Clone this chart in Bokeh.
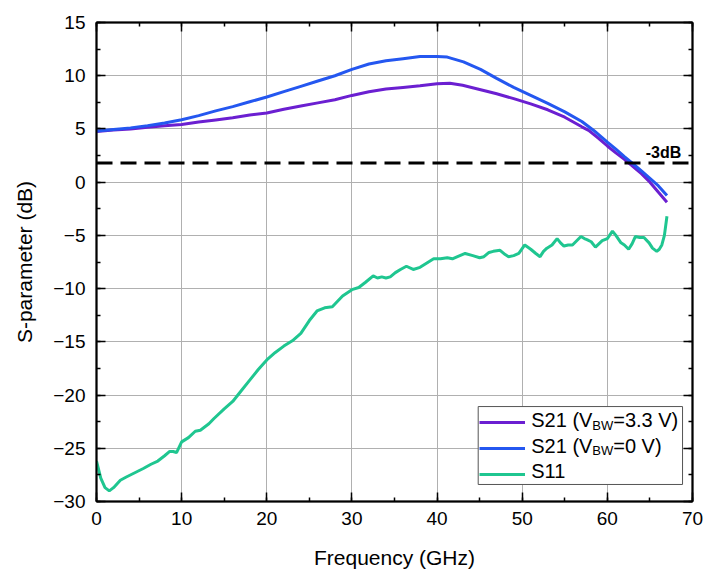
from bokeh.plotting import figure
from bokeh.models import (Range1d, LinearAxis, SingleIntervalTicker, Span, Label,
                          Legend, LegendItem, CustomJSTickFormatter, BoxAnnotation)
from bokeh.embed import file_html
from bokeh.resources import INLINE

# ---------------- data ----------------
freq_s21_33 = [0, 2, 4, 6, 8, 10, 12, 14, 16, 18, 20, 22, 24, 26, 28, 30, 32, 34, 36, 38, 40,
               41.5, 43, 45, 47, 49, 51, 53, 55, 57, 57.8, 59, 60, 61, 62, 62.6, 64, 65, 66, 67]
s21_33 = [4.75, 4.9, 5.0, 5.15, 5.3, 5.42, 5.65, 5.85, 6.05, 6.3, 6.5, 6.85, 7.15, 7.45, 7.75,
          8.15, 8.5, 8.75, 8.9, 9.05, 9.25, 9.3, 9.1, 8.7, 8.3, 7.85, 7.35, 6.8, 6.1, 5.2, 4.86,
          4.1, 3.4, 2.75, 2.15, 1.75, 0.8, 0.0, -0.95, -1.88]

freq_s21_0 = [0, 2, 4, 6, 8, 10, 12, 14, 16, 18, 20, 22, 24, 26, 28, 30, 32, 34, 36, 38, 40,
              41.2, 43.1, 45.1, 47, 49, 51, 53, 55, 57, 58.4, 60, 61, 62, 63, 64, 65, 66, 67]
s21_0 = [4.8, 4.95, 5.1, 5.3, 5.55, 5.86, 6.25, 6.7, 7.1, 7.55, 8.0, 8.5, 9.0, 9.5, 10.0, 10.6,
         11.1, 11.4, 11.6, 11.8, 11.8, 11.75, 11.3, 10.6, 9.75, 8.9, 8.15, 7.4, 6.6, 5.7, 4.86,
         3.77, 3.1, 2.4, 1.73, 1.05, 0.35, -0.35, -1.25]

freq_s11 = [0, 0.5, 1.0, 1.5, 2.0, 2.8, 3.5, 4.5, 5.5, 6.4, 7.2, 8.0, 8.6, 9.0, 9.4, 10.0,
            10.8, 11.6, 12.2, 13.2, 13.8, 15, 16, 17, 18, 19, 20, 21, 22, 23, 24, 25, 25.9,
            26.8, 27.7, 28.9, 30.0, 30.8, 31.6, 32.5, 33.0, 33.5, 34.0, 34.5, 35.1, 35.7,
            36.4, 37.2, 38.0, 38.8, 39.6, 40.4, 41.2, 41.8, 42.4, 43.3, 44.2, 45.0, 45.5,
            46.1, 46.6, 47.4, 48.0, 48.4, 49.0, 49.6, 50.3, 51.0, 51.6, 52.1, 52.5, 52.9,
            53.5, 54.1, 54.5, 54.9, 55.4, 55.9, 56.4, 56.9, 57.3, 57.6, 58.1, 58.6, 59.0,
            59.4, 60.0, 60.6, 61.0, 61.6, 62.0, 62.5, 62.9, 63.3, 63.8, 64.3, 64.9, 65.3,
            65.8, 66.1, 66.4, 66.7, 67.0]
s11 = [-26.2, -27.8, -28.7, -29.0, -28.7, -28.0, -27.7, -27.3, -26.9, -26.5, -26.2, -25.7,
       -25.3, -25.3, -25.4, -24.4, -24.0, -23.4, -23.3, -22.7, -22.2, -21.3, -20.6, -19.6,
       -18.6, -17.6, -16.7, -16.0, -15.4, -14.9, -14.2, -13.0, -12.1, -11.8, -11.7, -10.7,
       -10.1, -9.9, -9.4, -8.8, -9.0, -8.9, -9.0, -8.9, -8.5, -8.2, -7.9, -8.2, -8.0, -7.6,
       -7.2, -7.2, -7.1, -7.2, -7.0, -6.7, -6.9, -7.1, -7.0, -6.6, -6.5, -6.4, -6.8, -7.0,
       -6.9, -6.7, -5.9, -6.3, -6.7, -7.0, -6.5, -6.2, -5.9, -5.3, -5.7, -6.0, -5.9, -5.9,
       -5.5, -5.1, -5.3, -5.4, -5.6, -6.1, -5.8, -5.5, -5.3, -4.6, -5.0, -5.7, -5.9, -6.3,
       -5.8, -5.1, -5.2, -5.2, -5.7, -6.2, -6.5, -6.3, -5.9, -5.0, -3.2]

threshold_db = 1.8
threshold_label = "-3dB"
x_title = "Frequency (GHz)"
y_title = "S-parameter (dB)"
legend_parts = [("S21 (V", "BW", "=3.3 V)"), ("S21 (V", "BW", "=0 V)"), ("S11", "", "")]

C_PURPLE = "#6b1fd1"
C_BLUE = "#2457f0"
C_GREEN = "#1fc690"
FONT = "Liberation Sans"

p = figure(width=705, height=572, x_range=Range1d(0, 70), y_range=Range1d(-30, 15),
           output_backend="svg", toolbar_location=None,
           min_border_left=96, min_border_right=13, min_border_top=22, min_border_bottom=71,
           x_axis_label=x_title, y_axis_label=y_title)

xt = SingleIntervalTicker(interval=10, num_minor_ticks=2)
yt = SingleIntervalTicker(interval=5, num_minor_ticks=2)

def style_axis(ax, ticker, labels=True):
    ax.ticker = ticker
    ax.axis_line_color = "black"
    ax.axis_line_width = 2
    ax.major_tick_in = 9
    ax.major_tick_out = 0
    ax.minor_tick_in = 4
    ax.minor_tick_out = 0
    ax.major_tick_line_color = "black"
    ax.minor_tick_line_color = "black"
    ax.major_tick_line_width = 1.5
    ax.minor_tick_line_width = 1.5
    ax.major_label_text_font = FONT
    ax.major_label_text_font_size = "19px"
    ax.major_label_text_color = "black"
    if not labels:
        ax.formatter = CustomJSTickFormatter(code="return ''")
        ax.major_label_standoff = 0
        ax.major_label_text_font_size = "1px"

style_axis(p.xaxis[0], xt)
style_axis(p.yaxis[0], yt)
p.xaxis[0].major_label_standoff = 10
p.yaxis[0].major_label_standoff = 11
for ax in (p.xaxis[0], p.yaxis[0]):
    ax.axis_label_text_font = FONT
    ax.axis_label_text_font_size = "21px"
    ax.axis_label_text_font_style = "normal"
    ax.axis_label_text_color = "black"
p.xaxis[0].axis_label_standoff = 18
p.yaxis[0].axis_label_standoff = 14

top_ax = LinearAxis()
right_ax = LinearAxis()
style_axis(top_ax, SingleIntervalTicker(interval=10, num_minor_ticks=2), labels=False)
style_axis(right_ax, SingleIntervalTicker(interval=5, num_minor_ticks=2), labels=False)
p.add_layout(top_ax, "above")
p.add_layout(right_ax, "right")

p.xgrid.ticker = xt
p.ygrid.ticker = yt
for g in (p.xgrid[0], p.ygrid[0]):
    g.grid_line_color = "#b0b0b0"
    g.grid_line_width = 1
    g.grid_line_alpha = 1
    g.level = "image"

p.outline_line_color = "black"
p.outline_line_width = 1.5
p.background_fill_color = "white"
p.border_fill_color = "white"

# legend frame (white box hiding the grid)
p.add_layout(BoxAnnotation(left=44.83, right=68.83, top=-21.08, bottom=-28.40,
                           fill_color="white", fill_alpha=1, line_color="#555555",
                           line_width=1, line_alpha=1, level="underlay", editable=False))

r1 = p.line(freq_s21_33, s21_33, line_color=C_PURPLE, line_width=3)
r2 = p.line(freq_s21_0, s21_0, line_color=C_BLUE, line_width=3)
r3 = p.line(freq_s11, s11, line_color=C_GREEN, line_width=3)

p.add_layout(Span(location=threshold_db, dimension="width", line_color="black",
                  line_width=3, line_dash="16 8"))
p.add_layout(Label(x=64.5, y=threshold_db + 0.95, text=threshold_label, text_font=FONT,
                   text_font_size="16px", text_font_style="bold", text_baseline="middle",
                   text_color="black"))

legend = Legend(items=[LegendItem(label=" ", renderers=[r]) for r in (r1, r2, r3)],
                location=(383, 17), padding=3, spacing=6, margin=0,
                glyph_width=46, glyph_height=20, label_height=20, label_width=146,
                label_standoff=4, border_line_color=None,
                background_fill_alpha=0)
p.add_layout(legend, "center")

# legend texts with subscript
row_y = [-22.39, -24.74, -27.09]
tx = 51.06
for (a, sub, b), yy in zip(legend_parts, row_y):
    p.add_layout(Label(x=tx, y=yy, text=a, text_font=FONT, text_font_size="20px",
                       text_baseline="middle", text_color="black"))
    if sub:
        p.add_layout(Label(x=tx, y=yy, x_offset=61, y_offset=-5, text=sub, text_font=FONT,
                           text_font_size="13px", text_baseline="middle", text_color="black"))
        p.add_layout(Label(x=tx, y=yy, x_offset=82, text=b, text_font=FONT,
                           text_font_size="20px", text_baseline="middle", text_color="black"))

open("out.html", "w").write(file_html(p, INLINE))
